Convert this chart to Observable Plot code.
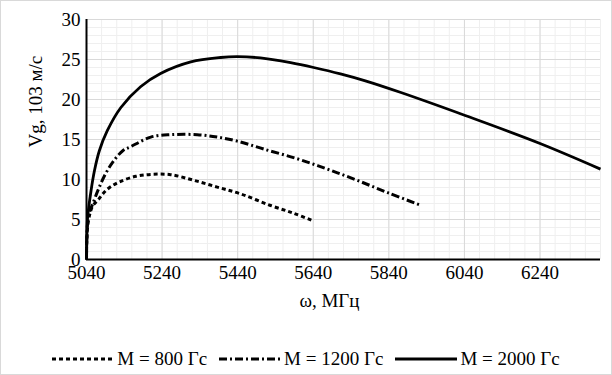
<!DOCTYPE html>
<html>
<head>
<meta charset="utf-8">
<script src="https://cdn.jsdelivr.net/npm/d3@7"></script>
<script src="https://cdn.jsdelivr.net/npm/@observablehq/plot@0.6"></script>
<style>
  body { margin: 0; background: #fff; }
  #wrap { position: relative; width: 612px; height: 375px; background: #fff; font-family: "Liberation Serif", serif; }
  #border { position: absolute; left: 0; top: 0; width: 612px; height: 375px; box-sizing: border-box; border: 1px solid #d9d9d9; pointer-events: none; }
  #chart { position: absolute; left: 0; top: 0; }
  #legend { position: absolute; left: 0; top: 347px; width: 612px; height: 24px; display: flex; justify-content: center; align-items: center; font-size: 19px; color: #000; }
  .item { display: flex; align-items: center; margin: 0 6px; }
  .item svg { margin-right: 3px; }
</style>
</head>
<body>
<div id="wrap">
  <div id="chart"></div>
  <div id="legend"></div>
  <div id="border"></div>
</div>
<script>
// Series data (frequency, МГц ; group velocity, 10^3 м/с)
const f800  = [5040, 5041, 5044, 5050, 5057, 5070, 5083, 5101, 5127, 5171, 5215, 5263, 5324, 5386, 5448, 5527, 5590, 5641];
const v800  = [0, 2.5, 4.5, 5.9, 6.75, 7.4, 8.2, 9.0, 9.7, 10.4, 10.65, 10.6, 9.9, 9.05, 8.2, 6.75, 5.75, 4.8];

const f1200 = [5040, 5041, 5044, 5050, 5057, 5070, 5088, 5110, 5136, 5157, 5210, 5263, 5333, 5386, 5439, 5509, 5597, 5677, 5756, 5840, 5923];
const v1200 = [0, 2.8, 5.0, 6.2, 7.0, 8.6, 10.5, 12.2, 13.6, 14.1, 15.3, 15.6, 15.6, 15.3, 14.8, 13.8, 12.6, 11.3, 9.9, 8.3, 6.8];

const f2000 = [5040, 5041, 5043, 5052, 5061, 5074, 5095, 5131, 5183, 5236, 5316, 5395, 5439, 5500, 5580, 5641, 5712, 5780, 5870, 6042, 6240, 6400];
const v2000 = [0, 3.0, 5.3, 8.6, 11.1, 13.6, 16.1, 19.0, 21.6, 23.25, 24.7, 25.25, 25.35, 25.2, 24.6, 24.0, 23.2, 22.3, 20.9, 18.0, 14.5, 11.3];

const seriesNames = ["М = 800 Гс", "М = 1200 Гс", "М = 2000 Гс"];
const xTicks = [5040, 5240, 5440, 5640, 5840, 6040, 6240];
const yTicks = [0, 5, 10, 15, 20, 25, 30];
const xMinor = d3.range(5040, 6401, 40);
const yMinor = d3.range(0, 31, 1);
const xLabel = "ω, МГц";
const yLabel = "Vg, 103 м/с";

const styles = [
  { dash: "4,3", width: 3 },
  { dash: "8,3,2,3", width: 3 },
  { dash: null, width: 2.8 }
];

const toRows = (fs, vs, s) => fs.map((f, i) => ({ f, v: vs[i], s }));
const rows = [
  toRows(f800, v800, seriesNames[0]),
  toRows(f1200, v1200, seriesNames[1]),
  toRows(f2000, v2000, seriesNames[2])
];

const font = "Liberation Serif";

const plot = Plot.plot({
  width: 612,
  height: 320,
  marginLeft: 86,
  marginRight: 12,
  marginTop: 19,
  marginBottom: 61,
  style: { fontFamily: font, fontSize: "19px", color: "#000", background: "transparent" },
  x: { domain: [5040, 6400] },
  y: { domain: [0, 30] },
  marks: [
    Plot.ruleX(xMinor, { stroke: "#efefef", strokeWidth: 1 }),
    Plot.ruleY(yMinor, { stroke: "#efefef", strokeWidth: 1 }),
    Plot.ruleX(xTicks, { stroke: "#d9d9d9", strokeWidth: 1 }),
    Plot.ruleY(yTicks, { stroke: "#d9d9d9", strokeWidth: 1 }),
    Plot.axisX(xTicks, { tickSize: 0, tickPadding: 6, fontSize: 19, label: null, tickFormat: d => String(d) }),
    Plot.axisY(yTicks, { tickSize: 0, tickPadding: 6, fontSize: 19, label: null }),
    ...rows.map((r, i) => Plot.line(r, {
      x: "f", y: "v", curve: "catmull-rom",
      stroke: "#000", strokeWidth: styles[i].width,
      strokeDasharray: styles[i].dash, strokeLinecap: "butt", strokeLinejoin: "round"
    })),
    Plot.ruleY([0], { stroke: "#000", strokeWidth: 2 }),
    Plot.ruleX([5040], { stroke: "#000", strokeWidth: 2 }),
    Plot.text([xLabel], { frameAnchor: "bottom", dx: -14, dy: 47, fontSize: 19, fill: "#000" }),
    Plot.text([yLabel], { frameAnchor: "left", dx: -51, dy: 8, rotate: -90, fontSize: 19, fill: "#000" })
  ]
});
document.getElementById("chart").appendChild(plot);

// Legend
const legend = d3.select("#legend");
seriesNames.forEach((name, i) => {
  const it = legend.append("div").attr("class", "item");
  const svg = it.append("svg").attr("width", 62).attr("height", 10);
  svg.append("line").attr("x1", 0).attr("x2", 62).attr("y1", 5).attr("y2", 5)
    .attr("stroke", "#000").attr("stroke-width", styles[i].width)
    .attr("stroke-dasharray", styles[i].dash);
  it.append("span").text(name);
});
</script>
</body>
</html>
